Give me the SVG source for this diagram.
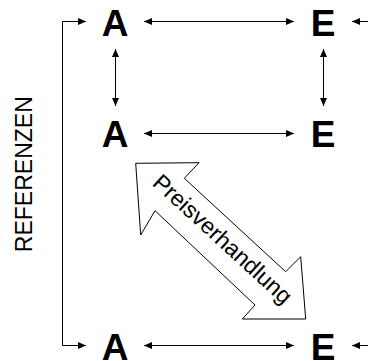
<svg xmlns="http://www.w3.org/2000/svg" width="368" height="361" viewBox="0 0 368 361">
<style>
.lbl{font-family:"Liberation Sans",Arial,sans-serif;font-weight:bold;font-size:37px;fill:#000;text-anchor:middle}
.side{font-family:"Liberation Sans",Arial,sans-serif;font-size:23px;fill:#000;text-anchor:middle}
.conn{fill:none;stroke:#000;stroke-width:1}
.big{fill:#fff;stroke:#000;stroke-width:1}
.big-t{font-family:"Liberation Sans",Arial,sans-serif;font-size:23px;fill:#000;text-anchor:middle}
</style>
<defs>
<marker id="ah" viewBox="0 0 8 7" refX="8" refY="3.5" markerWidth="8" markerHeight="7" orient="auto-start-reverse" markerUnits="userSpaceOnUse"><path d="M0,0 L8,3.5 L0,7 z" fill="#000"/></marker>
</defs>
<rect width="368" height="361" fill="#fff"/>
<g id="connectors">
<path class="conn" d="M86,21.5 H62.5 V345.5 H86" marker-start="url(#ah)" marker-end="url(#ah)"/>
<path class="conn" d="M144,21.5 H294" marker-start="url(#ah)" marker-end="url(#ah)"/>
<path class="conn" d="M144,133.5 H294" marker-start="url(#ah)" marker-end="url(#ah)"/>
<path class="conn" d="M144,345.5 H294" marker-start="url(#ah)" marker-end="url(#ah)"/>
<path class="conn" d="M368,21.5 H352" marker-end="url(#ah)"/>
<path class="conn" d="M368,345.5 H352" marker-end="url(#ah)"/>
<path class="conn" d="M115.5,49 V106" marker-start="url(#ah)" marker-end="url(#ah)"/>
<path class="conn" d="M323.5,49 V106" marker-start="url(#ah)" marker-end="url(#ah)"/>
</g>
<g id="node-a1"><text class="lbl" x="115" y="35.5">A</text></g>
<g id="node-e1"><text class="lbl" x="323" y="35.5">E</text></g>
<g id="node-a2"><text class="lbl" x="115" y="146.5">A</text></g>
<g id="node-e2"><text class="lbl" x="323" y="146.5">E</text></g>
<g id="node-a3"><text class="lbl" x="115" y="360">A</text></g>
<g id="node-e3"><text class="lbl" x="323" y="360">E</text></g>
<g id="referenzen"><text class="side" transform="translate(31.5,174.2) rotate(-90)">REFERENZEN</text></g>
<g id="preisverhandlung">
<polygon class="big" points="135.7,163.3 199,162.7 184.3,178.3 285.7,271.7 300.7,256.7 305.7,319 242.3,319 255,305 155,210.7 140.7,235"/>
<text class="big-t" transform="translate(220.7,241.2) rotate(42.5)" x="0" y="5">Preisverhandlung</text>
</g>
</svg>
